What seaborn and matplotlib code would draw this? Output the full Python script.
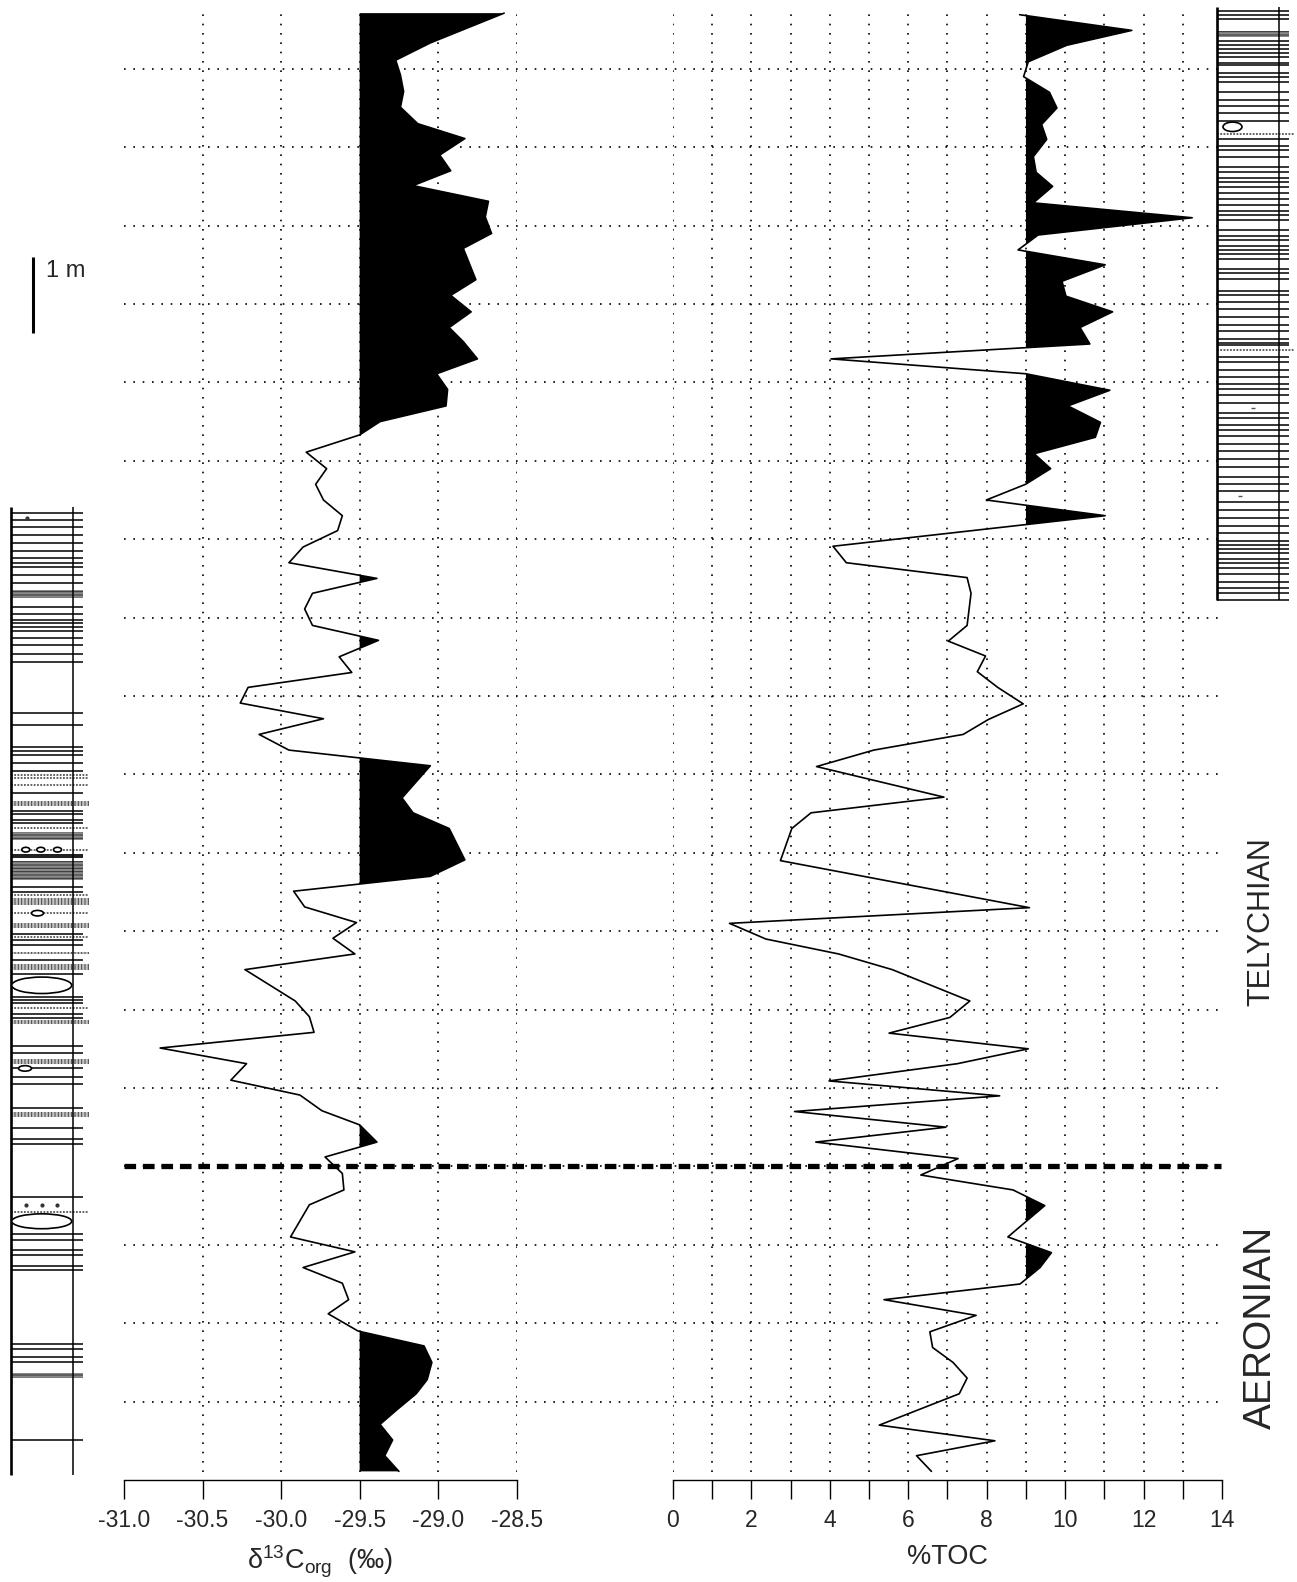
import matplotlib
matplotlib.use("Agg")
import matplotlib.pyplot as plt
from matplotlib import font_manager
from matplotlib.patches import Rectangle, Ellipse
import pandas as pd
import seaborn as sns

# ---- geochemistry, heights in m above the base of the section ----
d13c_height = [18.71, 18.33, 18.11, 17.92, 17.71, 17.51, 17.30, 17.11, 16.90, 16.70,
               16.51, 16.31, 16.11, 15.90, 15.71, 15.31, 15.11, 14.90, 14.70, 14.52,
               14.30, 14.11, 13.91, 13.70, 13.50, 13.33, 13.11, 12.90, 12.70, 12.50,
               12.30, 12.11, 11.90, 11.70, 11.50, 11.31, 11.11, 10.90, 10.71, 10.50,
               10.30, 10.11, 9.91, 9.71, 9.51, 9.31, 9.11, 8.70, 8.51, 8.31,
               7.91, 7.70, 7.51, 7.31, 7.11, 6.91, 6.71, 6.51, 6.11, 5.91,
               5.71, 5.51, 5.31, 5.10, 4.91, 4.71, 4.53, 4.31, 4.12, 3.91,
               3.70, 3.51, 3.10, 2.91, 2.71, 2.51, 2.30, 2.12, 1.90, 1.71,
               1.50, 1.28, 1.10, 0.90, 0.71, 0.51, 0.31, 0.11]
d13c_value = [-28.58, -29.05, -29.27, -29.24, -29.22, -29.24, -29.13, -28.83, -28.99, -28.92,
              -29.16, -28.68, -28.70, -28.66, -28.84, -28.76, -28.92, -28.79, -28.93, -28.84,
              -28.75, -29.01, -28.94, -28.95, -29.37, -29.50, -29.84, -29.71, -29.78, -29.73,
              -29.61, -29.64, -29.86, -29.95, -29.39, -29.80, -29.85, -29.80, -29.38, -29.63,
              -29.55, -30.21, -30.26, -29.73, -30.14, -29.95, -29.05, -29.23, -29.16, -28.93,
              -28.83, -29.05, -29.92, -29.85, -29.52, -29.67, -29.53, -30.23, -29.91, -29.82,
              -29.79, -30.77, -30.22, -30.32, -29.88, -29.74, -29.50, -29.39, -29.72, -29.61,
              -29.60, -29.82, -29.94, -29.53, -29.86, -29.61, -29.57, -29.70, -29.51, -29.09,
              -29.04, -29.07, -29.14, -29.26, -29.37, -29.29, -29.34, -29.25]

toc_height = [18.69, 18.49, 18.30, 18.09, 17.90, 17.70, 17.50, 17.29, 17.10, 16.88,
              16.68, 16.50, 16.29, 16.10, 15.88, 15.69, 15.50, 15.29, 15.10, 14.90,
              14.70, 14.49, 14.30, 14.11, 13.90, 13.70, 13.49, 13.30, 13.09, 12.90,
              12.70, 12.50, 12.30, 11.91, 11.70, 11.51, 11.31, 10.90, 10.70, 10.51,
              10.31, 10.11, 9.90, 9.70, 9.51, 9.31, 9.10, 8.71, 8.51, 8.31,
              7.90, 7.30, 7.10, 6.90, 6.71, 6.51, 6.11, 5.90, 5.70, 5.50,
              5.31, 5.09, 4.90, 4.70, 4.50, 4.31, 4.10, 3.89, 3.70, 3.50,
              3.10, 2.90, 2.71, 2.50, 2.30, 2.10, 1.89, 1.69, 1.50, 1.30,
              1.10, 0.70, 0.50, 0.31, 0.11]
toc_value = [8.84, 11.70, 10.04, 9.06, 8.94, 9.60, 9.79, 9.40, 9.53, 9.19,
             9.26, 9.68, 9.19, 13.24, 9.31, 8.80, 11.02, 9.92, 10.02, 11.21,
             10.38, 10.63, 4.03, 9.00, 11.14, 10.07, 10.90, 10.77, 9.21, 9.63,
             8.99, 7.99, 11.02, 4.08, 4.42, 7.50, 7.60, 7.50, 7.02, 7.97,
             7.76, 8.28, 8.93, 8.04, 7.40, 5.12, 3.66, 6.91, 3.52, 3.03,
             2.74, 9.09, 1.44, 2.37, 4.22, 5.59, 7.57, 7.06, 5.51, 9.06,
             7.25, 3.98, 8.33, 3.10, 6.96, 3.64, 7.27, 6.32, 8.67, 9.48,
             8.54, 9.65, 9.36, 8.85, 5.38, 7.73, 6.55, 6.62, 7.14, 7.50,
             7.30, 5.26, 8.21, 6.21, 6.59]

d13c_base = -29.5
toc_base = 9.0
d13c_ticks = [-31.0, -30.5, -30.0, -29.5, -29.0, -28.5]
toc_ticks = list(range(0, 15))
boundary_height = 4.0
stages = ["TELYCHIAN", "AERONIAN"]
stage_height = [7.12, 1.94]

# ---- lithology logs (bed boundaries in m) ----
left_top, left_bottom = 12.41, 0.07
left_thin = [12.34, 12.24, 12.15, 12.05, 11.95, 11.85, 11.76, 11.70, 11.64, 11.54,
             11.44, 11.14, 11.05, 10.97, 10.93, 10.88, 10.83, 10.74, 10.65, 10.54,
             10.44, 9.78, 9.63, 9.35, 9.30, 9.25, 9.14, 9.04, 8.76, 8.53,
             8.49, 8.42, 8.38, 7.57, 7.50, 6.97, 6.89, 6.82, 6.63, 6.46,
             6.16, 6.12, 6.08, 5.95, 5.89, 5.53, 5.45, 5.25, 5.14, 5.05,
             4.74, 4.49, 4.35, 4.29, 3.61, 3.14, 3.06, 2.93, 2.87, 2.73,
             2.68, 1.74, 1.67, 1.57, 1.51, 0.51]
left_gray = [(11.35, 11.25), (8.26, 8.16), (7.89, 7.65), (1.36, 1.30)]
left_dark = [(7.98, 7.93)]
left_dotted = [8.99, 8.96, 8.86, 8.32, 8.04, 7.46, 7.23, 6.93, 6.02, 3.42]
left_hatched = [(8.66, 8.60), (7.42, 7.33), (7.10, 7.04), (6.74, 6.71),
                (6.58, 6.51), (5.87, 5.82), (5.37, 5.31), (4.70, 4.63)]
left_nodules = [(41.7, 6.31, 60, 0.21), (41.7, 3.30, 60, 0.19), (37.5, 7.23, 12, 0.07),
                (25.8, 8.04, 8, 0.06), (40.8, 8.04, 8, 0.06), (57.5, 8.04, 8, 0.06),
                (25.0, 5.25, 13, 0.07)]
left_dots = [(26.7, 12.27), (26.0, 3.51), (41.7, 3.51), (57.3, 3.51)]

right_top, right_bottom = 18.79, 11.22
right_thin = [18.74, 18.68, 18.63, 18.35, 18.30, 18.25, 18.20, 18.15, 18.08, 18.05,
              17.95, 17.90, 17.83, 17.70, 17.60, 17.52, 17.43, 17.33, 17.11, 17.02,
              16.96, 16.88, 16.75, 16.69, 16.61, 16.55, 16.49, 16.41, 16.34, 16.26,
              16.19, 16.13, 16.07, 15.94, 15.87, 15.82, 15.74, 15.69, 15.64, 15.57,
              15.45, 15.40, 15.32, 15.17, 15.12, 15.03, 14.93, 14.83, 14.73, 14.65,
              14.55, 14.50, 14.48, 14.33, 14.26, 14.16, 14.07, 13.98, 13.91, 13.84,
              13.74, 13.61, 13.54, 13.46, 13.39, 13.31, 13.22, 13.12, 13.02, 12.92,
              12.79, 12.70, 12.62, 12.47, 12.37, 12.27, 12.17, 12.08, 11.98, 11.93,
              11.88, 11.83, 11.75, 11.70, 11.63, 11.55, 11.46, 11.38, 11.31, 11.23]
right_gray = [(18.48, 18.41)]
right_dotted = [17.17, 14.41]
right_nodules = [(1232.5, 17.26, 19, 0.12)]
right_marks = [(1253, 13.67), (1240, 12.55)]

# ---- figure ----
W, H = 1297, 1582
PX_PER_M = 78.4
Y_BASE = 1480.0          # pixel row (from top) of the 0 m level
h_top = Y_BASE / PX_PER_M
h_bot = -(H - Y_BASE) / PX_PER_M

sns.set_style("white")
plt.rcParams["font.family"] = ["Liberation Sans", "DejaVu Sans"]
plt.rcParams["mathtext.fontset"] = "custom"
plt.rcParams["mathtext.rm"] = "Liberation Sans"
plt.rcParams["mathtext.it"] = "Liberation Sans"
plt.rcParams["axes.unicode_minus"] = False
plt.rcParams["hatch.linewidth"] = 0.7

names = {f.name for f in font_manager.fontManager.ttflist}
if "Liberation Sans Narrow" in names:
    stage_fonts = [("Liberation Sans Narrow", 26), ("Liberation Sans", 28)]
else:
    stage_fonts = [("Liberation Sans", 22), ("Liberation Sans", 28)]

fig = plt.figure(figsize=(W / 100, H / 100), dpi=100)
dots = (0, (1, 4.6))

# layout overlay: x in pixels, y in metres
ax0 = fig.add_axes([0, 0, 1, 1], zorder=0)
ax0.set_xlim(0, W)
ax0.set_ylim(h_bot, h_top)
ax0.axis("off")
ax0.hlines(range(1, 19), 124, 1218, colors="black", linestyles=dots, lw=1.2)
ax0.hlines(boundary_height, 124, 1221, colors="black", linestyles=(0, (2.2, 1.3)),
           lw=3.8, capstyle="butt", zorder=5)
for name, hh, (fam, fs) in zip(stages, stage_height, stage_fonts):
    ax0.text(1261, hh, name, rotation=90, ha="center", va="center", fontsize=fs,
             family=[fam, "DejaVu Sans"])
ax0.vlines(33.3, 14.63, 15.60, colors="black", lw=2.2)
ax0.text(46, 15.42, "1 m", ha="left", va="center", fontsize=17)


def draw_log(ax, xl, xi, xe, xf, top, bottom, thin, gray, dark, dotted, hatched,
             nodules):
    ax.vlines(xl, bottom, top, colors="black", lw=1.9, zorder=3)
    ax.vlines(xi, bottom, top, colors="black", lw=1.1, zorder=3)
    ax.hlines(thin, xl, xe, colors="black", lw=1.1)
    for h1, h2 in gray:
        ax.add_patch(Rectangle((xl, h2), xe - xl, h1 - h2, facecolor="#8a8a8a",
                               edgecolor="#333333", hatch="-----", lw=0))
    for h1, h2 in dark:
        ax.add_patch(Rectangle((xl, h2), xe - xl, h1 - h2, facecolor="#222222", lw=0))
    ax.hlines(dotted, xl, xf, colors="#555555", linestyles=(0, (1, 0.8)), lw=1.3)
    for h1, h2 in hatched:
        ax.add_patch(Rectangle((xl, h2), xf - xl, h1 - h2, facecolor="#c4c4c4",
                               edgecolor="#444444", hatch="|||||", lw=0))
    for cx, cy, w, hh in nodules:
        ax.add_patch(Ellipse((cx, cy), w, hh, facecolor="white", edgecolor="black",
                             lw=1.2, zorder=4))


draw_log(ax0, 10.7, 72.7, 82.7, 89.0, left_top, left_bottom, left_thin, left_gray,
         left_dark, left_dotted, left_hatched, left_nodules)
ax0.scatter([d[0] for d in left_dots], [d[1] for d in left_dots], s=4, color="#333333",
            zorder=4)
draw_log(ax0, 1216.7, 1279.3, 1288.7, 1294.0, right_top, right_bottom, right_thin,
         right_gray, [], right_dotted, [], right_nodules)
for mx, my in right_marks:
    ax0.hlines(my, mx - 2, mx + 2, colors="#555555", lw=1.0)

# data panels
ax_c = fig.add_axes([124 / W, (H - Y_BASE) / H, 392.7 / W, Y_BASE / H], zorder=1)
ax_t = fig.add_axes([673 / W, (H - Y_BASE) / H, 549 / W, Y_BASE / H], zorder=1)

df_c = pd.DataFrame({"height": d13c_height, "d13c": d13c_value})
df_t = pd.DataFrame({"height": toc_height, "toc": toc_value})

for ax, df, col, base, xmin, xmax, grid in [
        (ax_c, df_c, "d13c", d13c_base, -31.0, -28.5, d13c_ticks[1:]),
        (ax_t, df_t, "toc", toc_base, 0, 14, toc_ticks[:-1])]:
    ax.patch.set_alpha(0)
    ax.vlines(grid, 0.1, 18.71, colors="black", linestyles=dots, lw=1.2)
    ax.fill_betweenx(df["height"], base, df[col], where=df[col] > base,
                     interpolate=True, color="black", lw=0)
    sns.lineplot(data=df, x=col, y="height", sort=False, estimator=None,
                 color="black", lw=1.2, ax=ax)
    ax.set_xlim(xmin, xmax)
    ax.set_ylim(0, h_top)
    ax.set_yticks([])
    ax.set_ylabel("")
    for s in ["left", "right", "top"]:
        ax.spines[s].set_visible(False)
    ax.spines["bottom"].set_linewidth(1.0)
    ax.spines["bottom"].set_color("black")
    ax.tick_params(axis="x", direction="out", length=13.7, width=1.0, color="black",
                   labelsize=16.5, pad=7, bottom=True)

ax_c.set_xticks(d13c_ticks)
ax_c.set_xticklabels([f"{t:.1f}" for t in d13c_ticks])
ax_c.set_xlabel(r"δ$^{13}$C$_{\rm org}$  (‰)", fontsize=19.5, labelpad=9)
ax_t.set_xticks(toc_ticks)
ax_t.set_xticklabels([str(t) if t % 2 == 0 else "" for t in toc_ticks])
ax_t.set_xlabel("%TOC", fontsize=19.5, labelpad=9)

fig.savefig("out.png", dpi=100)
